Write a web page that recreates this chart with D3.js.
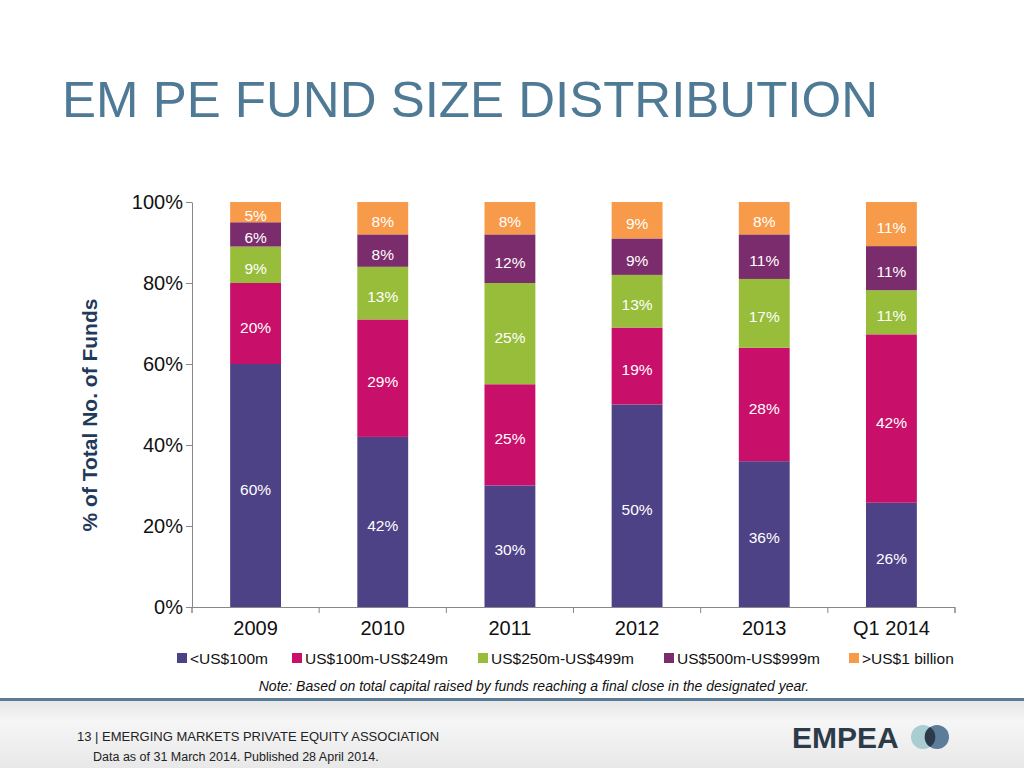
<!DOCTYPE html>
<html><head><meta charset="utf-8">
<script src="https://cdn.jsdelivr.net/npm/d3@7/dist/d3.min.js"></script>
<style>body{margin:0;background:#fff}svg{display:block;font-family:"Liberation Sans",Arial,sans-serif}</style>
</head><body><svg id="c" width="1024" height="768"></svg>
<script>
const categories = ["2009","2010","2011","2012","2013","Q1 2014"];
const seriesNames = ["<US$100m","US$100m-US$249m","US$250m-US$499m","US$500m-US$999m",">US$1 billion"];
const s1 = [60,42,30,50,36,26];
const s2 = [20,29,25,19,28,42];
const s3 = [9,13,25,13,17,11];
const s4 = [6,8,12,9,11,11];
const s5 = [5,8,8,9,8,11];
const colors = ["#4e4287","#c8106a","#97bd3a","#7b2c6c","#f79a4a"];
const yTicks = [0,0.2,0.4,0.6,0.8,1];

const series = [s1,s2,s3,s4,s5];
const rows = categories.map((c,i)=>{const o={cat:c};seriesNames.forEach((n,j)=>o[n]=series[j][i]);return o;});
const stack = d3.stack().keys(seriesNames).offset(d3.stackOffsetExpand)(rows);

const svg = d3.select("#c");
const g0 = svg.append("defs").append("linearGradient").attr("id","fg").attr("x1",0).attr("x2",0).attr("y1",0).attr("y2",1);
g0.append("stop").attr("offset",0).attr("stop-color","#e6e6e6");
g0.append("stop").attr("offset",0.3).attr("stop-color","#f6f6f6");
g0.append("stop").attr("offset",1).attr("stop-color","#e8e8e8");
svg.append("rect").attr("x",0).attr("y",701).attr("width",1024).attr("height",67).attr("fill","url(#fg)");
svg.append("rect").attr("x",0).attr("y",698).attr("width",1024).attr("height",3).attr("fill","#5b7c97");

svg.append("text").attr("x",62).attr("y",117).attr("font-size",44).attr("fill","#4f7a96")
 .attr("textLength",816).attr("lengthAdjust","spacingAndGlyphs").style("font-size","50px").text("EM PE FUND SIZE DISTRIBUTION");

const x = d3.scaleBand().domain(categories).range([192,955]).paddingInner(0.6).paddingOuter(0.3);
const y = d3.scaleLinear().domain([0,1]).range([607,202]);

svg.append("g").attr("transform","translate(192,0)")
 .call(d3.axisLeft(y).tickValues(yTicks).tickFormat(d3.format(".0%")).tickSize(6).tickSizeOuter(0))
 .call(g=>{g.select(".domain").attr("stroke","#888");g.selectAll("line").attr("stroke","#888");
   g.selectAll("text").attr("font-size",20).attr("fill","#111").attr("font-family","Liberation Sans, Arial");});
svg.append("g").attr("transform","translate(0,607)")
 .call(d3.axisBottom(x).tickSize(0).tickPadding(14))
 .call(g=>{g.select(".domain").attr("stroke","#888").attr("d","M192,0.5H955V6M192,0.5V6");
   g.selectAll("text").attr("font-size",20).attr("fill","#111").attr("font-family","Liberation Sans, Arial");});
const edges = categories.map((c,i)=>i===0?192:(x(categories[i-1])+x.bandwidth()+x(c))/2).concat([955]);
svg.append("g").selectAll("line").data(edges).join("line").attr("x1",d=>d).attr("x2",d=>d).attr("y1",607).attr("y2",613).attr("stroke","#888");

const layers = svg.append("g").selectAll("g").data(stack).join("g").attr("fill",(d,i)=>colors[i]);
layers.selectAll("rect").data(d=>d).join("rect")
 .attr("x",d=>x(d.data.cat)).attr("width",x.bandwidth())
 .attr("y",d=>y(d[1])).attr("height",d=>y(d[0])-y(d[1]));
stack.forEach((layer,j)=>{
 svg.append("g").selectAll("text").data(layer).join("text")
  .attr("x",d=>x(d.data.cat)+x.bandwidth()/2)
  .attr("y",d=>(y(d[0])+y(d[1]))/2+9)
  .attr("text-anchor","middle").attr("font-size",15.5).attr("fill","#fff")
  .text((d,i)=>series[j][i]+"%");
});

svg.append("text").attr("transform","translate(97,415) rotate(-90)").attr("text-anchor","middle")
 .attr("font-size",21).attr("font-weight","bold").attr("fill","#1f3a5a").text("% of Total No. of Funds");

const lx=[177,292,478,664,849];
const lg = svg.append("g").selectAll("g").data(seriesNames).join("g").attr("transform",(d,i)=>`translate(${lx[i]},658)`);
lg.append("rect").attr("x",0).attr("y",-5).attr("width",10).attr("height",10).attr("fill",(d,i)=>colors[i]);
lg.append("text").attr("x",13).attr("y",6).attr("font-size",15.5).attr("fill","#111").text(d=>d);

svg.append("text").attr("x",534).attr("y",691).attr("text-anchor","middle").attr("font-size",14).attr("font-style","italic").attr("fill","#111")
 .text("Note: Based on total capital raised by funds reaching a final close in the designated year.");
svg.append("text").attr("x",77).attr("y",741).attr("font-size",13).attr("fill","#222").text("13 | EMERGING MARKETS PRIVATE EQUITY ASSOCIATION");
svg.append("text").attr("x",93).attr("y",761).attr("font-size",12.5).attr("fill","#222").text("Data as of 31 March 2014. Published 28 April 2014.");
svg.append("text").attr("x",792).attr("y",748).attr("font-size",30).attr("font-weight","bold").attr("fill","#2d3a4a").text("EMPEA");
svg.append("circle").attr("cx",923).attr("cy",737).attr("r",12).attr("fill","#a9cdd1");
svg.append("circle").attr("cx",937).attr("cy",737).attr("r",12).attr("fill","#5c7d9a");
svg.append("path").attr("d","M930,727 A12,12 0 0 1 930,747 A12,12 0 0 1 930,727Z").attr("fill","#2d3a4a");
</script></body></html>
